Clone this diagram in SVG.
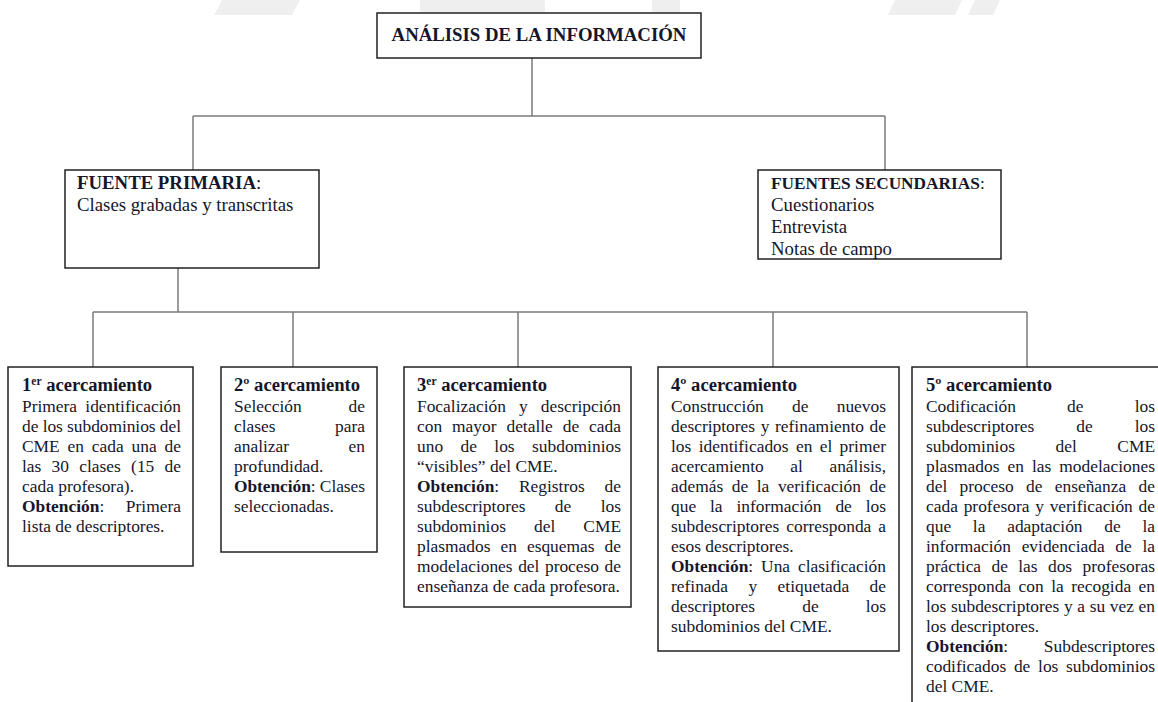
<svg xmlns="http://www.w3.org/2000/svg" width="1158" height="702" viewBox="0 0 1158 702">
<style>
.box{fill:#fff;stroke:#222;stroke-width:1.5}
.t{font-family:"Liberation Serif","Times New Roman",serif;font-size:17.4px;fill:#16162a}
.u{font-family:"Liberation Serif","Times New Roman",serif;font-size:18.8px;fill:#16162a}
.b{font-weight:bold}
.h{font-size:18.6px}
.sh{font-size:17.3px}
.sup{font-size:11.5px}
.conn line{stroke:#7a7a7a;stroke-width:1.5}
.wm{fill:#efefef}
</style>
<rect width="1158" height="702" fill="#fff"/>
<g id="watermark">
<polygon class="wm" points="222,0 300,0 292,15 214,15"/>
<rect class="wm" x="420" y="0" width="125" height="15"/>
<rect class="wm" x="652" y="0" width="28" height="15"/>
<polygon class="wm" points="895,0 962,0 955,15 888,15"/>
<polygon class="wm" points="975,0 1000,0 993,15 968,15"/>
</g>
<g id="connectors" class="conn">
<line x1="532" y1="58" x2="532" y2="116"/>
<line x1="193" y1="116" x2="885" y2="116"/>
<line x1="193" y1="116" x2="193" y2="170"/>
<line x1="885" y1="116" x2="885" y2="170"/>
<line x1="178" y1="268" x2="178" y2="312"/>
<line x1="93" y1="312" x2="1027" y2="312"/>
<line x1="93" y1="312" x2="93" y2="367"/>
<line x1="293" y1="312" x2="293" y2="367"/>
<line x1="518" y1="312" x2="518" y2="367"/>
<line x1="773" y1="312" x2="773" y2="367"/>
<line x1="1027" y1="312" x2="1027" y2="367"/>
</g>
<g id="analisis">
<rect class="box" x="377" y="13" width="324" height="45"/>
<text class="u b" x="539" y="41" text-anchor="middle">ANÁLISIS DE LA INFORMACIÓN</text>
</g>
<g id="fuente-primaria">
<rect class="box" x="65" y="170" width="254" height="98"/>
<text class="u" x="77" y="189"><tspan class="b">FUENTE PRIMARIA</tspan>:</text>
<text class="u" x="77" y="211">Clases grabadas y transcritas</text>
</g>
<g id="fuentes-secundarias">
<rect class="box" x="758" y="170" width="243" height="89"/>
<text class="u sh" x="771" y="189"><tspan class="b">FUENTES SECUNDARIAS</tspan>:</text>
<text class="u" x="771" y="211">Cuestionarios</text>
<text class="u" x="771" y="233">Entrevista</text>
<text class="u" x="771" y="255">Notas de campo</text>
</g>
<g id="acercamiento-1">
<rect class="box" x="8" y="367" width="185" height="199"/>
<text class="t b h" x="22" y="391">1<tspan class="sup" dy="-6">er</tspan><tspan dy="6"> acercamiento</tspan></text>
<text class="t" x="22" y="412" textLength="159" lengthAdjust="spacing" word-spacing="3.9">Primera identificación</text>
<text class="t" x="22" y="432" textLength="159" lengthAdjust="spacing">de los subdominios del</text>
<text class="t" x="22" y="452" textLength="159" lengthAdjust="spacing" word-spacing="3.5">CME en cada una de</text>
<text class="t" x="22" y="472" textLength="159" lengthAdjust="spacing" word-spacing="5.9">las 30 clases (15 de</text>
<text class="t" x="22" y="492">cada profesora).</text>
<text class="t" x="22" y="512" textLength="159" lengthAdjust="spacing" word-spacing="17"><tspan class="b">Obtención</tspan>: Primera</text>
<text class="t" x="22" y="532">lista de descriptores.</text>
</g>
<g id="acercamiento-2">
<rect class="box" x="221" y="367" width="156" height="185"/>
<text class="t b h" x="234" y="391">2º acercamiento</text>
<text class="t" x="234" y="412">Selección</text><text class="t" x="365" y="412" text-anchor="end">de</text>
<text class="t" x="234" y="432">clases</text><text class="t" x="365" y="432" text-anchor="end">para</text>
<text class="t" x="234" y="452">analizar</text><text class="t" x="365" y="452" text-anchor="end">en</text>
<text class="t" x="234" y="472">profundidad.</text>
<text class="t" x="234" y="492" textLength="131" lengthAdjust="spacing"><tspan class="b">Obtención</tspan>: Clases</text>
<text class="t" x="234" y="512">seleccionadas.</text>
</g>
<g id="acercamiento-3">
<rect class="box" x="404" y="367" width="227" height="240"/>
<text class="t b h" x="417" y="391">3<tspan class="sup" dy="-6">er</tspan><tspan dy="6"> acercamiento</tspan></text>
<text class="t" x="417" y="412" textLength="204" lengthAdjust="spacing" word-spacing="8.7">Focalización y descripción</text>
<text class="t" x="417" y="432" textLength="204" lengthAdjust="spacing" word-spacing="5.6">con mayor detalle de cada</text>
<text class="t" x="417" y="452" textLength="204" lengthAdjust="spacing" word-spacing="13">uno de los subdominios</text>
<text class="t" x="417" y="472">“visibles” del CME.</text>
<text class="t" x="417" y="492" textLength="204" lengthAdjust="spacing" word-spacing="15.5"><tspan class="b">Obtención</tspan>: Registros de</text>
<text class="t" x="417" y="512" textLength="204" lengthAdjust="spacing" word-spacing="25">subdescriptores de los</text>
<text class="t" x="417" y="532" textLength="204" lengthAdjust="spacing" word-spacing="23.7">subdominios del CME</text>
<text class="t" x="417" y="552" textLength="204" lengthAdjust="spacing" word-spacing="5.7">plasmados en esquemas de</text>
<text class="t" x="417" y="572" textLength="204" lengthAdjust="spacing" word-spacing="1.2">modelaciones del proceso de</text>
<text class="t" x="417" y="592">enseñanza de cada profesora.</text>
</g>
<g id="acercamiento-4">
<rect class="box" x="658" y="367" width="241" height="284"/>
<text class="t b h" x="671" y="391">4º acercamiento</text>
<text class="t" x="671" y="412" textLength="215" lengthAdjust="spacing" word-spacing="23.9">Construcción de nuevos</text>
<text class="t" x="671" y="432" textLength="215" lengthAdjust="spacing" word-spacing="1.3">descriptores y refinamiento de</text>
<text class="t" x="671" y="452" textLength="215" lengthAdjust="spacing" word-spacing="3">los identificados en el primer</text>
<text class="t" x="671" y="472" textLength="215" lengthAdjust="spacing" word-spacing="22.2">acercamiento al análisis,</text>
<text class="t" x="671" y="492" textLength="215" lengthAdjust="spacing" word-spacing="4.2">además de la verificación de</text>
<text class="t" x="671" y="512" textLength="215" lengthAdjust="spacing" word-spacing="9.5">que la información de los</text>
<text class="t" x="671" y="532" textLength="215" lengthAdjust="spacing" word-spacing="2.6">subdescriptores corresponda a</text>
<text class="t" x="671" y="552">esos descriptores.</text>
<text class="t" x="671" y="572" textLength="215" lengthAdjust="spacing" word-spacing="3.6"><tspan class="b">Obtención</tspan>: Una clasificación</text>
<text class="t" x="671" y="592" textLength="215" lengthAdjust="spacing" word-spacing="16.1">refinada y etiquetada de</text>
<text class="t" x="671" y="612" textLength="215" lengthAdjust="spacing" word-spacing="42.7">descriptores de los</text>
<text class="t" x="671" y="632">subdominios del CME.</text>
</g>
<g id="acercamiento-5">
<rect class="box" x="912" y="367" width="260" height="360"/>
<text class="t b h" x="926" y="391">5º acercamiento</text>
<text class="t" x="926" y="412" textLength="229" lengthAdjust="spacing" word-spacing="46.8">Codificación de los</text>
<text class="t" x="926" y="432" textLength="229" lengthAdjust="spacing" word-spacing="37.7">subdescriptores de los</text>
<text class="t" x="926" y="452" textLength="229" lengthAdjust="spacing" word-spacing="36.2">subdominios del CME</text>
<text class="t" x="926" y="472" textLength="229" lengthAdjust="spacing" word-spacing="3.7">plasmados en las modelaciones</text>
<text class="t" x="926" y="492" textLength="229" lengthAdjust="spacing" word-spacing="8">del proceso de enseñanza de</text>
<text class="t" x="926" y="512" textLength="229" lengthAdjust="spacing" word-spacing="1.4">cada profesora y verificación de</text>
<text class="t" x="926" y="532" textLength="229" lengthAdjust="spacing" word-spacing="17.4">que la adaptación de la</text>
<text class="t" x="926" y="552" textLength="229" lengthAdjust="spacing" word-spacing="6.3">información evidenciada de la</text>
<text class="t" x="926" y="572" textLength="229" lengthAdjust="spacing" word-spacing="6">práctica de las dos profesoras</text>
<text class="t" x="926" y="592" textLength="229" lengthAdjust="spacing" word-spacing="3.1">corresponda con la recogida en</text>
<text class="t" x="926" y="612" textLength="229" lengthAdjust="spacing" word-spacing="0.3">los subdescriptores y a su vez en</text>
<text class="t" x="926" y="632">los descriptores.</text>
<text class="t" x="926" y="652" textLength="229" lengthAdjust="spacing" word-spacing="31.3"><tspan class="b">Obtención</tspan>: Subdescriptores</text>
<text class="t" x="926" y="672" textLength="229" lengthAdjust="spacing" word-spacing="3.4">codificados de los subdominios</text>
<text class="t" x="926" y="692">del CME.</text>
</g>
</svg>
